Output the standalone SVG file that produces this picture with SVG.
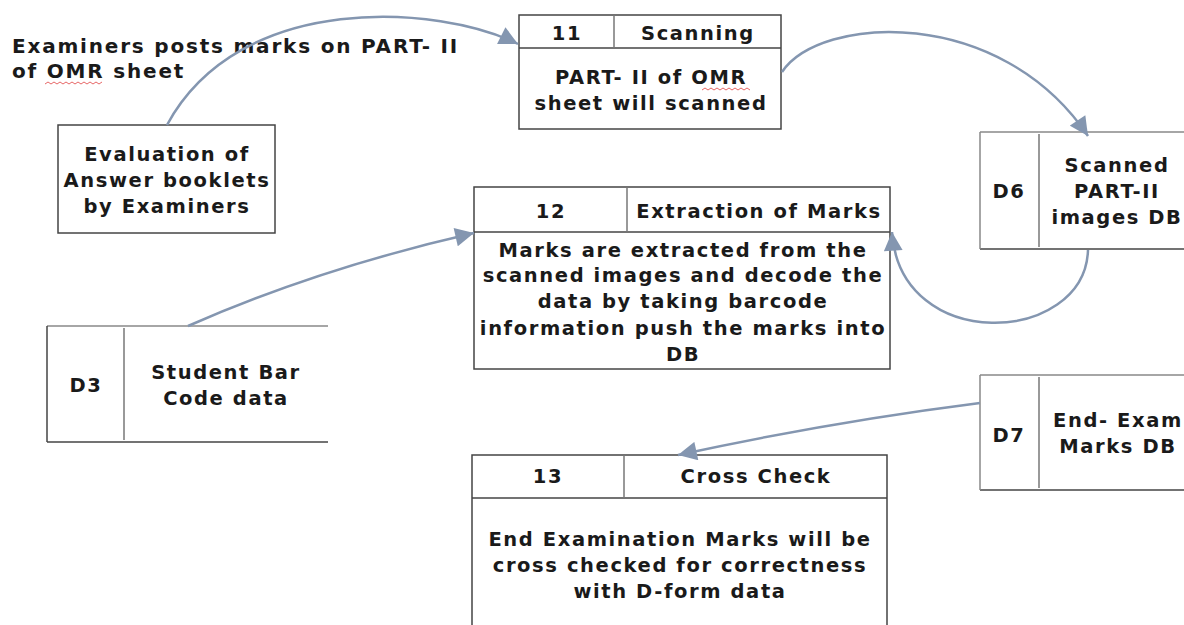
<svg xmlns="http://www.w3.org/2000/svg" width="1184" height="625" viewBox="0 0 1184 625">
<style>
text{font-family:"DejaVu Sans","Verdana",sans-serif;font-weight:bold;font-size:19.5px;letter-spacing:1.6px;fill:#1a1a1a;text-anchor:middle}
.lbl{text-anchor:start;font-size:20px;letter-spacing:1.8px}
.box{fill:#fff;stroke:#444;stroke-width:1.5}
.div{stroke:#777;stroke-width:1.5;fill:none}
.st{stroke:#888;stroke-width:1.5;fill:none}
.stb{stroke:#444;stroke-width:1.5;fill:none}
.flow{fill:none;stroke:#8496b0;stroke-width:2.5}
.sq{fill:none;stroke:#e04040;stroke-width:0.8}
</style>
<defs>
<marker id="ah" viewBox="0 0 10 10" refX="10" refY="5" markerWidth="8" markerHeight="7.5" orient="auto" markerUnits="strokeWidth">
<path d="M0,0 L10,5 L0,10 z" fill="#8496b0"/>
</marker>
</defs>

<g id="label-examiners">
<text class="lbl" x="12" y="53">Examiners posts marks on PART- II</text>
<text class="lbl" x="12" y="78">of OMR sheet</text>
<path class="sq" d="M45,84 l3,-2 l3,2 l3,-2 l3,2 l3,-2 l3,2 l3,-2 l3,2 l3,-2 l3,2 l3,-2 l3,2 l3,-2 l3,2 l3,-2 l3,2 l3,-2 l3,2 l3,-2"/>
</g>

<g id="node-evaluation">
<rect class="box" x="58" y="125" width="217" height="108"/>
<text x="167" y="161">Evaluation of</text>
<text x="167" y="187">Answer booklets</text>
<text x="167" y="213">by Examiners</text>
</g>

<g id="node-11">
<rect class="box" x="519" y="15" width="262" height="114"/>
<line class="stb" x1="519" y1="48" x2="781" y2="48"/>
<line class="div" x1="614" y1="15" x2="614" y2="48"/>
<text x="567" y="40">11</text>
<text x="698" y="40">Scanning</text>
<text x="651" y="84">PART- II of OMR</text>
<text x="651" y="110">sheet will scanned</text>
<path class="sq" d="M702,90 l3,-2 l3,2 l3,-2 l3,2 l3,-2 l3,2 l3,-2 l3,2 l3,-2 l3,2 l3,-2 l3,2 l3,-2 l3,2 l3,-2 l3,2"/>
</g>

<g id="node-12">
<rect class="box" x="474" y="187" width="416" height="182"/>
<line class="stb" x1="474" y1="232" x2="890" y2="232"/>
<line class="div" x1="627" y1="187" x2="627" y2="232"/>
<text x="551" y="218">12</text>
<text x="759" y="218">Extraction of Marks</text>
<text x="683" y="257">Marks are extracted from the</text>
<text x="683" y="282">scanned images and decode the</text>
<text x="683" y="308">data by taking barcode</text>
<text x="683" y="335">information push the marks into</text>
<text x="683" y="361">DB</text>
</g>

<g id="node-13">
<path class="stb" d="M472,625 V455 H887 V625"/>
<line class="stb" x1="472" y1="498" x2="887" y2="498"/>
<line class="div" x1="624" y1="455" x2="624" y2="498"/>
<text x="548" y="483">13</text>
<text x="756" y="483">Cross Check</text>
<text x="680" y="546">End Examination Marks will be</text>
<text x="680" y="572">cross checked for correctness</text>
<text x="680" y="598">with D-form data</text>
</g>

<g id="store-d3">
<line class="st" x1="47" y1="326" x2="328" y2="326"/>
<line class="stb" x1="47" y1="442" x2="328" y2="442"/>
<line class="stb" x1="47" y1="326" x2="47" y2="442"/>
<line class="div" x1="124" y1="328" x2="124" y2="440"/>
<text x="86" y="392">D3</text>
<text x="226" y="379">Student Bar</text>
<text x="226" y="405">Code data</text>
</g>

<g id="store-d6">
<line class="st" x1="980" y1="132" x2="1184" y2="132"/>
<line class="stb" x1="980" y1="249" x2="1184" y2="249"/>
<line class="st" x1="980" y1="132" x2="980" y2="249"/>
<line class="div" x1="1039" y1="134" x2="1039" y2="247"/>
<text x="1009" y="198">D6</text>
<text x="1117" y="172">Scanned</text>
<text x="1117" y="198">PART-II</text>
<text x="1117" y="224">images DB</text>
</g>

<g id="store-d7">
<line class="st" x1="980" y1="375" x2="1184" y2="375"/>
<line class="stb" x1="980" y1="490" x2="1184" y2="490"/>
<line class="st" x1="980" y1="375" x2="980" y2="490"/>
<line class="div" x1="1039" y1="377" x2="1039" y2="488"/>
<text x="1009" y="442">D7</text>
<text x="1118" y="427">End- Exam</text>
<text x="1118" y="453">Marks DB</text>
</g>

<g id="connectors">
<path class="flow" marker-end="url(#ah)" d="M167,125 C240,-10 440,5 518,44"/>
<path class="flow" marker-end="url(#ah)" d="M782,72 C820,15 1000,5 1088,136"/>
<path class="flow" marker-end="url(#ah)" d="M1088,250 C1085,345 900,355 892,232"/>
<path class="flow" marker-end="url(#ah)" d="M188,326 Q320,268 474,233"/>
<path class="flow" marker-end="url(#ah)" d="M980,403 Q830,422 678,455"/>
</g>
</svg>
